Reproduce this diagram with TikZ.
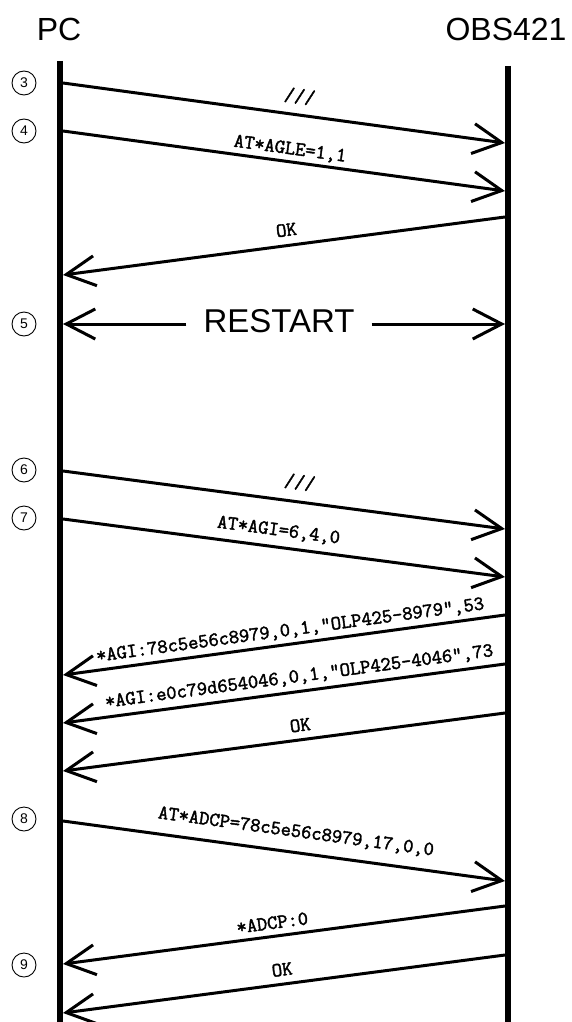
\documentclass[tikz,border=0pt]{standalone}
\usepackage{fontspec}
\setmainfont{Liberation Sans}
\setmonofont{Latin Modern Mono}[AutoFakeBold=2]
\usetikzlibrary{arrows.meta}
\begin{document}
\begin{tikzpicture}[x=1pt,y=-1pt,
  lifeline/.style={line width=6pt},
  msg/.style={line width=3pt,-{Straight Barb[length=29pt,width=30pt]}},
  lbl/.style={sloped,above,inner xsep=0pt,text depth=0pt,
    font=\ttfamily\bfseries\fontsize{20}{20}\selectfont},
  stepno/.style={circle,draw,line width=0.9pt,minimum size=24pt,inner sep=0pt,
    font=\fontsize{14}{14}\selectfont},
  title/.style={anchor=base,font=\fontsize{32}{32}\selectfont}]
\useasboundingbox (0,0) rectangle (571,1022);

% participants
\node[title] (pc)  at (59,41)  {PC};
\node[title] (obs) at (506,41) {OBS421};
\coordinate (pcTop)  at (60,61);
\coordinate (pcBot)  at (60,1022);
\coordinate (obsTop) at (508,66);
\coordinate (obsBot) at (508,1022);
\draw[lifeline] (pcTop) -- (pcBot);
\draw[lifeline] (obsTop) -- (obsBot);

% step markers
\node[stepno] (s3) at (24,83)  {3};
\node[stepno] (s4) at (24,131) {4};
\node[stepno] (s5) at (24,324) {5};
\node[stepno] (s6) at (24,470) {6};
\node[stepno] (s7) at (24,518) {7};
\node[stepno] (s8) at (24,819) {8};
\node[stepno] (s9) at (24,965) {9};

% message end points on the lifelines
\coordinate (a1) at (63,83);   \coordinate (b1) at (505,143);
\coordinate (a2) at (63,131);  \coordinate (b2) at (505,191);
\coordinate (b3) at (505,217); \coordinate (a3) at (63,275);
\coordinate (a5) at (63,324);  \coordinate (b5) at (505,324);
\coordinate (a6) at (63,471);  \coordinate (b6) at (505,529);
\coordinate (a7) at (63,519);  \coordinate (b7) at (505,577);
\coordinate (b8) at (505,615); \coordinate (a8) at (63,675);
\coordinate (b9) at (505,664); \coordinate (a9) at (63,723);
\coordinate (b10) at (505,713); \coordinate (a10) at (63,771);
\coordinate (a11) at (63,821);  \coordinate (b11) at (505,881);
\coordinate (b12) at (505,906); \coordinate (a12) at (63,964);
\coordinate (b13) at (505,955); \coordinate (a13) at (63,1013);

% messages
\draw[msg] (a1) -- node[lbl,pos=0.53,inner ysep=11pt] {///} (b1);
\draw[msg] (a2) -- node[lbl,pos=0.51,inner ysep=6pt] {AT*AGLE=1,1} (b2);
\draw[msg] (b3) -- node[lbl,pos=0.49,inner ysep=8pt] {OK} (a3);

\node[anchor=base,font=\fontsize{33}{33}\selectfont,inner xsep=17pt,inner ysep=0pt]
  (rst) at (279,332) {RESTART};
\draw[msg] (rst.west |- a5) -- (a5);
\draw[msg] (rst.east |- b5) -- (b5);

\draw[msg] (a6) -- node[lbl,pos=0.53,inner ysep=12pt] {///} (b6);
\draw[msg] (a7) -- node[lbl,pos=0.483,inner ysep=10pt] {AT*AGI=6,4,0} (b7);
\draw[msg] (b8) -- node[lbl,pos=0.482,inner ysep=7pt]
  {*AGI:78c5e56c8979,0,1,"OLP425-8979",53} (a8);
\draw[msg] (b9) -- node[lbl,pos=0.4615,inner ysep=8pt]
  {*AGI:e0c79d654046,0,1,"OLP425-4046",73} (a9);
\draw[msg] (b10) -- node[lbl,pos=0.459,inner ysep=7pt] {OK} (a10);
\draw[msg] (a11) -- node[lbl,pos=0.521,inner ysep=14pt] {AT*ADCP=78c5e56c8979,17,0,0} (b11);
\draw[msg] (b12) -- node[lbl,pos=0.5226,inner ysep=6pt] {*ADCP:0} (a12);
\draw[msg] (b13) -- node[lbl,pos=0.5,inner ysep=7pt] {OK} (a13);
\end{tikzpicture}
\end{document}
